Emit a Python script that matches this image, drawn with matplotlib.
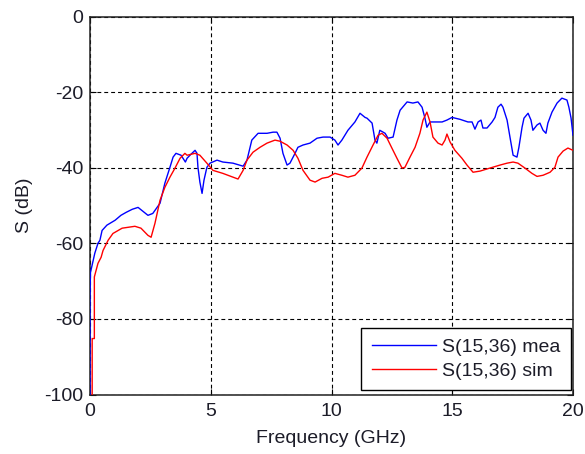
import numpy as np
import matplotlib
matplotlib.use("Agg")
import matplotlib.pyplot as plt

# Measured coupling S(15,36), frequency in GHz, level in dB
freq_mea = [0.0, 0.0, 0.02, 0.2, 0.33, 0.41, 0.5, 0.7, 1.04, 1.28, 1.5, 1.75, 1.99,
            2.4, 2.6, 2.9, 3.1, 3.31, 3.44, 3.56, 3.77, 3.95, 4.02, 4.14, 4.35,
            4.43, 4.47, 4.55, 4.64, 4.72, 4.84, 4.97, 5.26, 5.5, 5.92, 6.34, 6.5,
            6.7, 6.96, 7.33, 7.58, 7.74, 7.87, 7.99, 8.16, 8.28, 8.49, 8.61, 8.82,
            9.11, 9.4, 9.65, 9.94, 10.14, 10.27, 10.43, 10.68, 10.97, 11.18,
            11.39, 11.47, 11.68, 11.8, 11.88, 12.0, 12.22, 12.34, 12.55, 12.71,
            12.84, 13.13, 13.37, 13.58, 13.75, 13.87, 13.95, 14.08, 14.58, 14.78,
            14.99, 15.32, 15.65, 15.82, 15.94, 16.07, 16.19, 16.27, 16.44, 16.65,
            16.77, 16.89, 17.02, 17.1, 17.27, 17.39, 17.52, 17.68, 17.76, 17.89,
            17.97, 18.14, 18.26, 18.34, 18.51, 18.63, 18.76, 18.88, 18.96, 19.13,
            19.34, 19.54, 19.75, 19.83, 19.92, 20.0]
s_mea = [-100, -74.3, -67.7, -62.6, -60.0, -59.2, -56.6, -55.2, -53.9, -52.6, -51.8,
         -51.0, -50.5, -52.6, -52.1, -49.4, -44.1, -39.9, -37.2, -36.2, -36.7,
         -38.5, -37.5, -36.7, -35.4, -36.2, -39.9, -43.8, -46.8, -43.3, -39.9,
         -38.8, -38.0, -38.5, -38.8, -39.6, -38.0, -32.7, -30.9, -30.9, -30.6,
         -30.6, -32.2, -36.2, -39.3, -38.8, -36.2, -34.6, -34.0, -33.5, -32.2,
         -31.9, -31.9, -32.7, -34.0, -32.7, -30.1, -27.9, -25.6, -26.7, -26.9,
         -28.2, -32.7, -33.5, -30.1, -30.9, -32.2, -31.9, -27.4, -24.8, -22.6,
         -22.9, -22.6, -24.0, -26.9, -29.3, -27.9, -27.9, -27.4, -26.7, -27.2,
         -27.9, -27.9, -29.8, -27.9, -27.4, -29.5, -29.5, -27.9, -26.7, -24.0,
         -23.2, -24.0, -27.4, -31.9, -36.7, -37.2, -34.6, -29.3, -26.9, -25.6,
         -27.4, -30.1, -28.7, -28.2, -30.1, -30.9, -28.2, -25.3, -22.9, -21.6,
         -22.1, -24.0, -26.9, -31.4]

# Simulated coupling S(15,36)
freq_sim = [0.09, 0.09, 0.18, 0.18, 0.33, 0.46, 0.54, 0.75, 0.95, 1.33, 1.86, 2.11,
            2.4, 2.53, 2.69, 2.9, 3.1, 3.31, 3.52, 3.73, 3.93, 4.02, 4.35, 4.55,
            4.84, 5.09, 5.5, 5.92, 6.13, 6.34, 6.5, 6.75, 7.04, 7.33, 7.66, 7.87,
            8.16, 8.41, 8.61, 8.82, 9.11, 9.32, 9.61, 9.86, 10.14, 10.43, 10.68,
            10.97, 11.26, 11.47, 11.72, 11.93, 12.09, 12.3, 12.5, 12.71, 12.92,
            13.04, 13.25, 13.46, 13.66, 13.79, 13.95, 14.08, 14.2, 14.41, 14.58,
            14.7, 14.78, 14.91, 15.11, 15.4, 15.61, 15.86, 16.15, 16.56, 16.98,
            17.27, 17.52, 17.72, 18.01, 18.3, 18.51, 18.76, 19.05, 19.25, 19.38,
            19.59, 19.79, 20.0]
s_sim = [-100, -85.2, -85.2, -68.9, -65.3, -63.7, -61.9, -59.2, -57.4, -56.0, -55.5,
         -56.0, -57.9, -58.4, -54.7, -48.6, -45.2, -42.5, -40.1, -37.5, -36.2,
         -36.7, -36.2, -36.7, -38.8, -40.7, -41.5, -42.5, -43.0, -40.7, -38.0,
         -35.9, -34.6, -33.5, -32.7, -33.0, -34.0, -35.4, -37.5, -40.7, -43.3,
         -43.8, -42.8, -42.5, -41.5, -42.0, -42.5, -42.0, -40.1, -37.2, -34.0,
         -31.4, -30.9, -32.2, -34.8, -37.5, -40.1, -39.9, -37.2, -34.6, -30.9,
         -27.4, -25.3, -27.9, -31.9, -33.5, -34.0, -32.7, -31.1, -33.2, -35.4,
         -37.5, -39.3, -41.2, -40.9, -40.1, -39.3, -38.8, -38.5, -38.8, -40.1,
         -41.5, -42.3, -42.0, -41.2, -39.9, -37.2, -35.6, -34.8, -35.4]

x_ticks = [0, 5, 10, 15, 20]
y_ticks = [-100, -80, -60, -40, -20, 0]

plt.rcParams['font.family'] = ['Liberation Sans', 'DejaVu Sans']
plt.rcParams['axes.unicode_minus'] = False
txt = '#1c1c28'
fs = 14

fig = plt.figure(figsize=(5.85, 4.54), dpi=100)
ax = fig.add_axes([90 / 585, 1 - 394.5 / 454, 483 / 585, 378 / 454])

ax.plot(freq_mea, s_mea, color='#0000ff', lw=1.0, label='S(15,36) mea', zorder=3)
ax.plot(freq_sim, s_sim, color='#ff0000', lw=1.0, label='S(15,36) sim', zorder=3)

ax.set_xlim(0, 20)
ax.set_ylim(-100, 0)
ax.set_xticks(x_ticks)
ax.set_yticks(y_ticks)
ax.grid(True, color='black', linestyle=(0, (3.5, 2.7)), linewidth=0.8)
ax.tick_params(direction='in', length=4, width=0.8, top=True, right=True,
               labelsize=fs, labelcolor=txt)
ax.tick_params(axis='x', pad=6)
ax.tick_params(axis='y', pad=5)
for s in ax.spines.values():
    s.set_linewidth(1.1)
    s.set_color('#202020')

ax.set_xlabel('Frequency (GHz)', fontsize=fs, color=txt, labelpad=7)
ax.set_ylabel('S (dB)', fontsize=fs, color=txt, labelpad=8)

leg = ax.legend(loc='lower right', bbox_to_anchor=(0.995, 0.011), borderaxespad=0,
                fontsize=fs, frameon=True, fancybox=False, handlelength=3.3,
                handletextpad=0.3, borderpad=0.55, labelspacing=0.3)
leg.get_frame().set_edgecolor('black')
leg.get_frame().set_linewidth(1.0)
leg.get_frame().set_alpha(1)
for t in leg.get_texts():
    t.set_color(txt)

fig.savefig('out.png', dpi=100, facecolor='white')
